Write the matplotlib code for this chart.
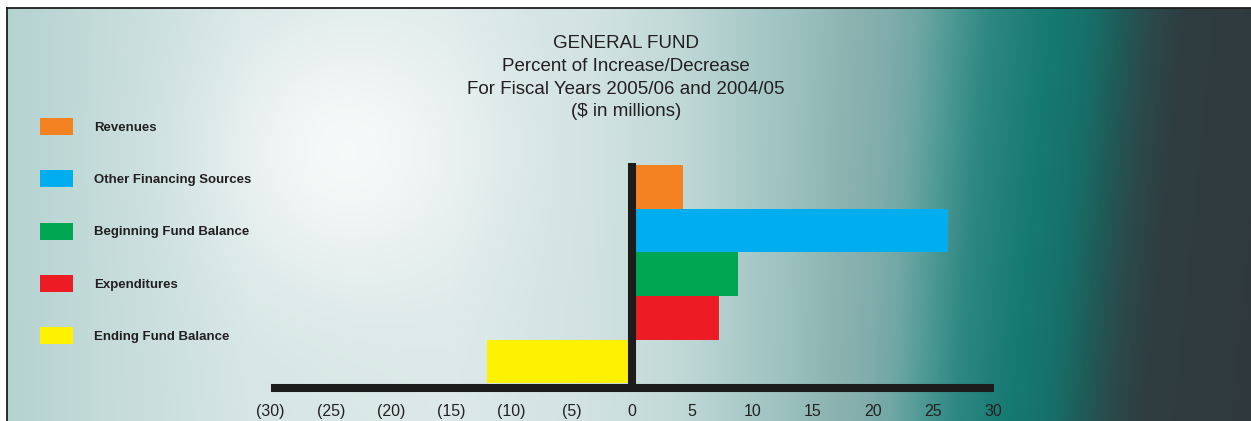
import numpy as np
import matplotlib.pyplot as plt
from matplotlib.colors import to_rgb

plt.rcParams['font.family'] = ['Liberation Sans', 'DejaVu Sans']

# Percent change by fund category, FY 2005/06 vs 2004/05
categories = ['Revenues', 'Other Financing Sources', 'Beginning Fund Balance',
              'Expenditures', 'Ending Fund Balance']
pct_change = [4.2, 26.2, 8.8, 7.2, -12.0]
bar_colors = ['#f58220', '#00aeef', '#00a651', '#ed1c24', '#fff200']

tick_values = [-30, -25, -20, -15, -10, -5, 0, 5, 10, 15, 20, 25, 30]
tick_labels = ['(30)', '(25)', '(20)', '(15)', '(10)', '(5)', '0',
               '5', '10', '15', '20', '25', '30']

title_lines = ['GENERAL FUND', 'Percent of Increase/Decrease',
               'For Fiscal Years 2005/06 and 2004/05', '($ in millions)']

W, H, DPI = 1251, 421, 100
fig = plt.figure(figsize=(W / DPI, H / DPI), dpi=DPI)


def px(x0, y0, x1, y1):
    """pixel box (top-left origin) -> figure rect"""
    return [x0 / W, 1 - y1 / H, (x1 - x0) / W, (y1 - y0) / H]


# ---- background panel: pale teal fading to dark slate, with a soft glow
bg = fig.add_axes(px(7, 8, W, H))
gh, gw = H - 8, W - 7
yy, xx = np.mgrid[0:gh, 0:gw].astype(float)
xabs = xx + 7
# the dark band leans left towards the bottom
xs = xabs + 0.10 * yy * np.clip((xabs - 700) / 300, 0, 1)

stops_x = [0, 100, 250, 450, 600, 680, 750, 800, 850, 890, 920, 950, 990,
           1050, 1090, 1120, 1150, 1185, 1300]
stops_c = ['#b3d2d0', '#c3dbd9', '#d6e6e4', '#dce9e8', '#d0e2e0', '#c0d9d7',
           '#a9cac8', '#9bc1bf', '#8db3b1', '#80adab', '#6ea6a3', '#509a95',
           '#2e8782', '#157a72', '#17706a', '#1e5d59', '#2b4a4b', '#2f3d41',
           '#30393d']
rgb = np.array([to_rgb(c) for c in stops_c])
img = np.dstack([np.interp(xs, stops_x, rgb[:, k]) for k in range(3)])

glow = 0.75 * np.exp(-((xabs - 345) ** 2 + (yy + 8 - 150) ** 2) / (2 * 95.0 ** 2))
img = img * (1 - glow[..., None]) + glow[..., None]
bg.imshow(img, aspect='auto', interpolation='bilinear')
bg.set_xticks([])
bg.set_yticks([])
for side in ['right', 'bottom']:
    bg.spines[side].set_visible(False)
for side in ['top', 'left']:
    bg.spines[side].set_linewidth(1.3)
    bg.spines[side].set_color('#1e1e1e')

# ---- bar chart
ax = fig.add_axes(px(270.5, 163, 993.5, 388.3))
ax.patch.set_visible(False)
ypos = np.arange(len(categories))[::-1]
bars = ax.barh(ypos, pct_change, height=1.0, color=bar_colors, linewidth=0)
ax.set_xlim(-30, 30)
ax.set_ylim(-0.615, 4.546)

ax.axvline(0, color='#1c1c1c', lw=5.8, solid_capstyle='butt')
for side in ['top', 'right', 'left']:
    ax.spines[side].set_visible(False)
ax.spines['bottom'].set_linewidth(5.8)
ax.spines['bottom'].set_color('#1c1c1c')
ax.spines['bottom'].set_capstyle('butt')

ax.set_yticks([])
ax.set_xticks(tick_values, tick_labels)
ax.tick_params(axis='x', length=0, pad=11.5, labelsize=11.5, labelcolor='#222222')

# ---- legend down the left side
leg = ax.legend(bars.patches, categories, loc='upper left',
                bbox_to_anchor=(40 / W, 1 - 118 / H), bbox_transform=fig.transFigure,
                frameon=False, borderpad=0, borderaxespad=0,
                handlelength=2.5, handleheight=1.6, handletextpad=1.59,
                labelspacing=2.68, prop={'size': 9.5, 'weight': 'bold'})
for t in leg.get_texts():
    t.set_color('#231f20')

# ---- title block
for i, line in enumerate(title_lines):
    fig.text(626 / W, 1 - (48.3 + 22.6 * i) / H, line, ha='center', va='baseline',
             fontsize=13.5, color='#231f20')

fig.savefig('out.png', dpi=DPI)
